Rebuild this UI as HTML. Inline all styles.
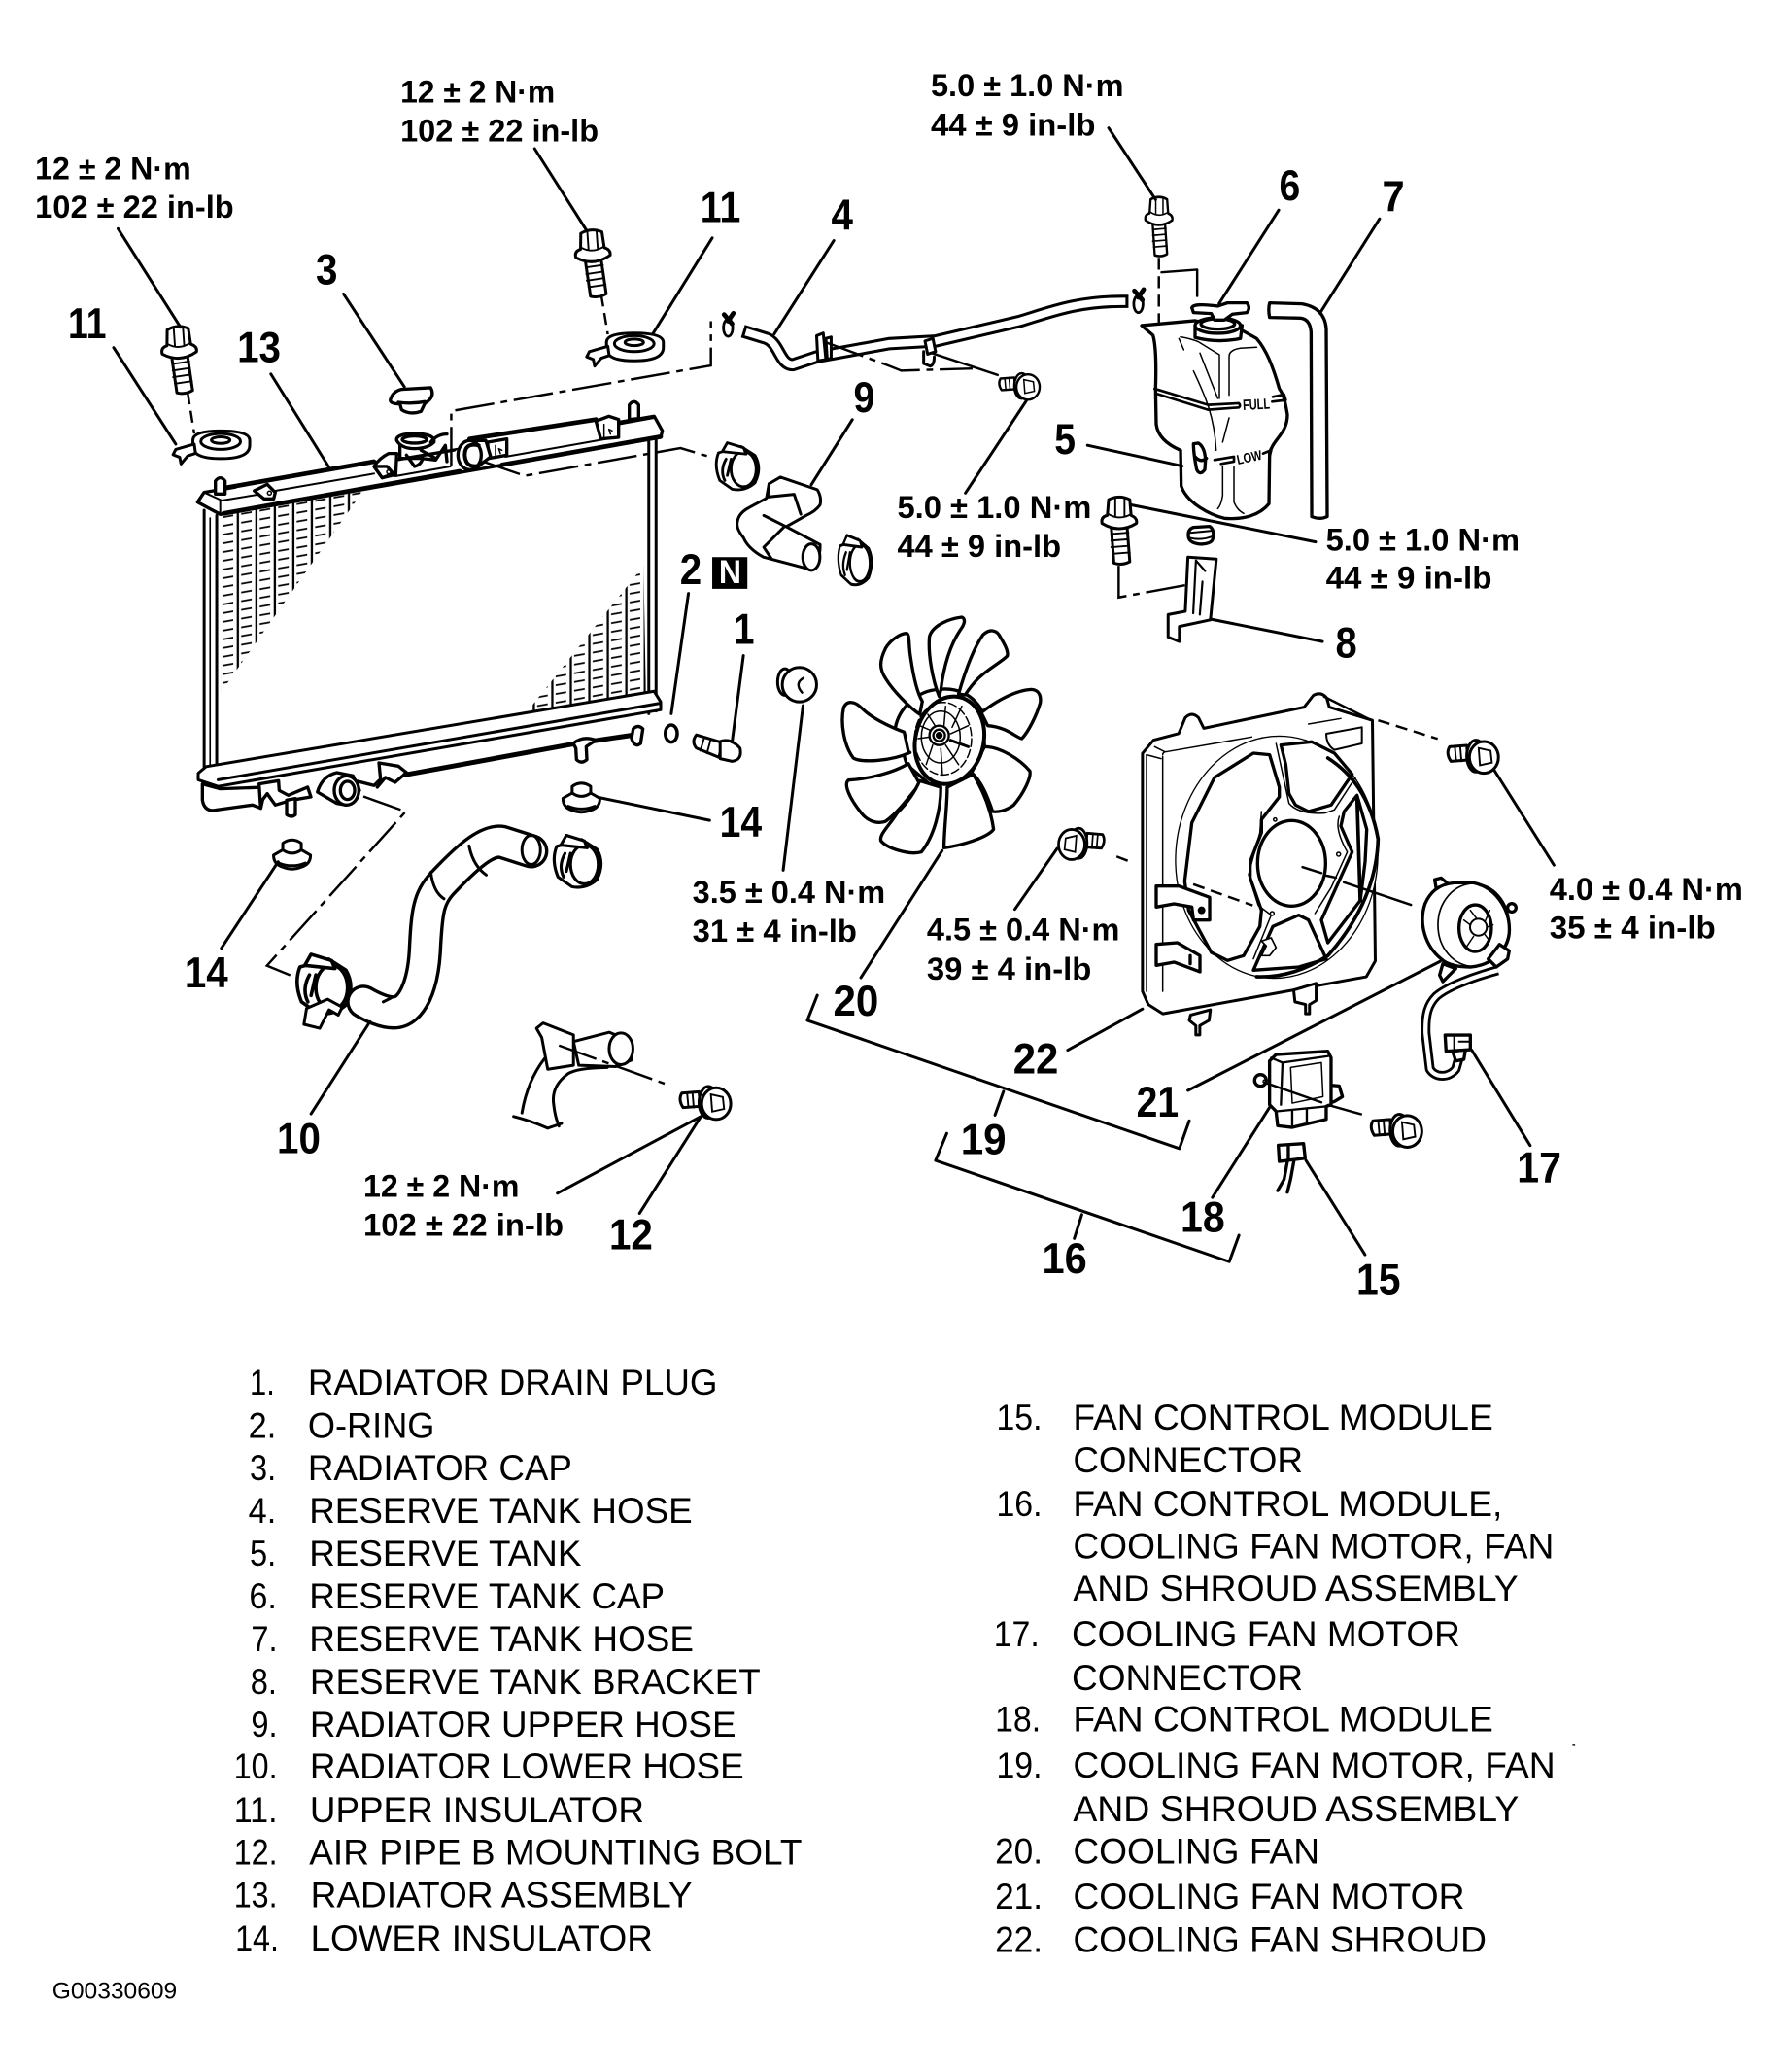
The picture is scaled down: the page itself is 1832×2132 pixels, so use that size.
<!DOCTYPE html>
<html lang="en"><head><meta charset="utf-8"><title>Radiator and cooling fan components</title>
<style>
html,body{margin:0;padding:0;background:#fff}
svg{display:block}
text{font-family:"Liberation Sans",Arial,sans-serif;fill:#000;stroke:none}
.n{font-weight:700;font-size:33px}
.t{font-weight:700;font-size:24px}
.l{font-size:27px}
.s,.s *{fill:#fff;stroke:#000;stroke-width:2.2;stroke-linejoin:round;stroke-linecap:round}
.k,.k *{fill:none;stroke:#000;stroke-width:2.2;stroke-linecap:round;stroke-linejoin:round}
.th,.th *{fill:none;stroke:#000;stroke-width:1.4;stroke-linecap:round}
.d{fill:none;stroke:#000;stroke-width:1.8;stroke-dasharray:30 5 5 5}
.e{fill:none;stroke:#000;stroke-width:1.8;stroke-dasharray:9 5}
.hb{fill:none;stroke:#000;stroke-linecap:square;stroke-linejoin:round}
.z path,.z ellipse,.z circle,.z polygon{fill:#fff;stroke:#000;stroke-width:10;stroke-linejoin:round;stroke-linecap:round}
.z .o{fill:none}
.z .h{fill:none;stroke-width:14}
.z .f{fill:none;stroke-width:4.5}
.z .b{fill:#000}
</style></head><body>
<svg xmlns="http://www.w3.org/2000/svg" width="1832" height="2132" viewBox="0 0 1347.06 1567.65">
<defs>
<pattern id="fin" patternUnits="userSpaceOnUse" width="14" height="6.6" patternTransform="translate(11 0) skewY(-10)">
<path d="M1 0V6.6" fill="none" stroke="#000" stroke-width="1.7"/>
<path d="M3.5 3.3H11.5" fill="none" stroke="#000" stroke-width="1.3"/>
</pattern>
<g id="bolt">
<path class="s" d="M-6 14H6L8 40Q2 43-4 41Z"/>
<path class="th" d="M-6 19L7 18M-6 24L7 23M-6 29L7 28M-5 34L8 33"/>
<path class="s" d="M-13 11Q-14 6-9 5L-8-7Q0-11 8-7L9 5Q14 7 13 11Q0 19-13 11Z"/>
<path class="th" d="M-8 4Q0 9 9 4M-3-8L-3 6M4-8L4 6"/>
</g>
<g id="rb">
<path class="s" d="M-26-7L-13-8L-12 3L-25 4Q-29-2-26-7Z"/>
<path class="th" d="M-22-7L-21 4M-18-8L-17 4"/>
<ellipse class="s" cx="-6" cy="0" rx="7" ry="12"/>
<ellipse class="s" cx="0" cy="1" rx="11" ry="12"/>
<path class="th" d="M-4-6L5-4L6 5L-3 7Z"/>
</g>
<g id="ins">
<path class="s" d="M-21 3Q-21 12 0 12Q22 12 22 2L22-2Q22-9 0-9Q-21-9-21-2Z"/>
<ellipse class="k" cx="0" cy="-1" rx="15" ry="6"/>
<ellipse class="k" cx="0" cy="-2" rx="7" ry="2.5"/>
<path class="s" d="M-20 1L-34 5L-36 9L-31 11L-30 16L-25 10L-19 8Z"/>
</g>
<g id="li">
<path class="s" d="M-14 2L-7-2V-7Q0-12 7-7V-2L14 2Q14 9 7 11Q0 14-7 11Q-14 9-14 2Z"/>
<path class="k" d="M-7-2Q0 3 7-2M-10 8Q0 12 10 8"/>
</g>
<g id="clamp">
<path class="s" d="M-15-12L3-17L14-10Q20 0 14 12Q6 19-4 17L-14 10Q-19-2-15-12Z"/>
<ellipse class="s" cx="5" cy="1" rx="10" ry="14"/>
<path class="s" d="M-12-13L-8-20L5-16L7-11Q-3-12-12-13Z"/>
<path class="k" d="M-9-7Q-14 2-10 10M-5-7L-8 6"/>
</g>
<g id="clip">
<ellipse cx="0" cy="4" rx="3.5" ry="6.5" fill="#fff" stroke="#000" stroke-width="2"/>
<path d="M-3-6L3 1M4-7L0-1" stroke="#000" stroke-width="3.5" fill="none" stroke-linecap="round"/>
</g>
</defs>

<!-- RADIATOR -->
<path d="M168 386L273 366V374L167 524Z" fill="url(#fin)"/>
<path d="M487 428L489 535L385 556Z" fill="url(#fin)"/>
<path class="k" d="M154.5 386V590M164 390V594M491 333V540M496.5 330V538"/>
<path class="k" d="M159 392V590" style="stroke-width:1.2"/>
<g class="z" transform="translate(147.06 294.1) scale(.2451)">
<path d="M10 350L30 320L1420 85L1445 130L1440 150L80 388Z"/>
<path d="M100 305L555 225L640 240L740 250L850 155L1240 95L1310 90L1310 150L960 215L620 270L250 320Z" style="stroke:none"/>
<path class="h" d="M100 305L555 225M850 155L1240 95M90 385L820 255M950 235L1440 148"/>
<path class="o" d="M85 345L250 318M250 315L555 262M620 270L790 240M960 210L1300 150M1310 110L1420 90M80 345V385M30 320L85 345M10 350L80 385M1420 85L1445 130" style="stroke-width:6"/>
<path d="M185 315L225 295L250 320L245 340L215 340Z"/><circle cx="232" cy="322" r="6" class="f"/>
<path d="M555 240Q570 215 600 200L625 200L622 265L580 275Z"/>
<path d="M555 240L595 240L615 262L580 275Z"/><circle cx="600" cy="257" r="6" class="f"/>
<path d="M65 325V285Q80 265 95 285V325Z"/>
<path d="M1343 95V50Q1358 30 1372 50V92Z"/>
<path d="M1240 100L1280 85L1310 95V150L1255 155Z"/><path class="f" d="M1265 110V150M1290 130L1280 125L1285 140"/>
<path d="M655 205L680 240Q700 235 705 215" class="o"/>
<path d="M635 170V215H700L745 220L775 175L780 225" class="o"/>
<path d="M625 160Q620 140 680 138Q745 140 740 165Q720 185 680 185Q640 185 625 160Z"/>
<ellipse cx="680" cy="157" rx="38" ry="11" class="o"/>
<path class="o" d="M700 190L745 215M730 165Q750 140 780 140"/>
<path d="M905 165L965 155V205L910 215Z"/><path class="f" d="M930 175V205M950 190L940 185L945 200"/>
<path d="M855 160L900 160L915 210L870 245L835 240Z"/>
<ellipse cx="850" cy="205" rx="36" ry="45"/>
<path class="o" d="M878 175Q835 165 835 205Q838 245 875 238" style="stroke-width:12"/>
<!-- radiator cap -->
<path d="M605 35Q612 8 640 2L730 -3Q745 25 712 45L700 70Q665 82 640 65L635 47Q605 47 605 35Z"/>
<path class="o" d="M630 42Q670 48 712 40"/>
</g>
<path class="s" d="M150 585L156 580L495 523L500 531L500 537L165 595L150 590Z"/>
<path class="k" d="M165 590L500 532"/>
<g class="z" transform="translate(147.06 558.8) scale(.2451)">
<path d="M25 140V190Q30 220 55 222L180 205L205 215L220 150L80 155Z"/>
<path d="M200 140L260 130L262 160L290 175L350 150L360 180L300 190L250 205L225 170L210 190L205 215Z"/>
<path d="M285 190V235Q300 245 312 235V185Z"/>
<path d="M380 165Q395 115 440 105L490 115L510 160L470 205L440 200Z"/>
<ellipse cx="470" cy="160" rx="38" ry="45"/>
<ellipse cx="473" cy="160" rx="22" ry="28"/>
<path d="M505 132L555 145L575 125L570 75L630 85L655 105L620 135L590 120L565 150" />
<path class="h" d="M650 112L1180 15L1362 -12" style="stroke-width:15"/>
<path d="M1170 15Q1200 -10 1240 5L1210 25L1212 65Q1195 80 1180 65L1178 30Z"/>
<path d="M1350 0L1355 -30Q1370 -45 1385 -30L1378 15Q1360 30 1350 0Z"/>
</g>

<!-- BOLTS AND INSULATORS -->
<use href="#bolt" transform="translate(135 256) rotate(-4)"/>
<use href="#bolt" transform="translate(448 183) rotate(-4)"/>
<use href="#bolt" transform="translate(877 157) scale(.78,.88)"/>
<use href="#bolt" transform="translate(847 385)"/>
<use href="#ins" transform="translate(167 335)"/>
<use href="#ins" transform="translate(480 261)"/>
<use href="#li" transform="translate(440 602)"/>
<use href="#li" transform="translate(221 645)"/>
<use href="#rb" transform="translate(542 834)"/>
<use href="#rb" transform="translate(1123 572)"/>
<use href="#rb" transform="translate(1065 855)"/>
<use href="#rb" transform="translate(811 638) scale(-.9,.95)"/>
<use href="#rb" transform="translate(778 292) scale(.8)"/>

<!-- CLAMPS -->
<use href="#clamp" transform="translate(558 354) scale(.95,.95)"/>
<use href="#clamp" transform="translate(647 425) scale(.75,1)"/>
<use href="#clamp" transform="translate(437 653) scale(1.05,1.05)"/>
<use href="#clamp" transform="translate(245 746) scale(1.2,1.2)"/>
<path class="s" d="M232 763L230 775L242 778L249 764L256 768L259 762L248 756Z"/>

<!-- HOSE 9 -->
<path class="s" d="M582 366L590.6 361L618.5 370.5Q622 376 620.6 382Q617 387 610 390L595 398.5L620.6 412Q621 424 614 431L577.7 421.5Q566 415 562.6 406.7Q557 400 558 395Q559 388 567 384L580 377Z"/>
<path class="k" d="M582 366L581 376L601 374L606 389M578 390L594 398L578 414L584 423"/>
<ellipse class="s" cx="614" cy="421.5" rx="6.5" ry="10"/>
<!-- HOSE 10 -->
<path class="hb" style="stroke-linecap:round" stroke-width="26" d="M402 644L380 637C368 635 352 650 335 668C324 680 323 690 321.5 720C320 745 312 766 298 766C290 766 282 762 275 758"/>
<path class="hb" style="stroke:#fff;stroke-linecap:round" stroke-width="21" d="M402 644L380 637C368 635 352 650 335 668C324 680 323 690 321.5 720C320 745 312 766 298 766C290 766 282 762 275 758"/>
<ellipse class="s" cx="402" cy="643" rx="7" ry="11"/>
<path class="k" d="M326 660Q328 675 336 680M355 640Q358 655 368 662M296 755L290 758"/>
<!-- HOSE 4 -->
<path class="hb" stroke-width="10" d="M567 252L580 256C590 260 590 276 600 276L618 270L673 260L708 258L772 243C795 236 815 228 849 228"/>
<path class="hb" style="stroke:#fff" stroke-width="5.5" d="M567 252L580 256C590 260 590 276 600 276L618 270L673 260L708 258L772 243C795 236 815 228 849 228"/>
<path class="s" d="M618 254L623 252L625 272L619 273ZM625 256L629 255V271L626 272Z"/>
<path class="s" d="M700 258L706 256L708 266L702 268ZM699 266V275L704 277Q707 276 707 270"/>
<use href="#clip" transform="translate(551 244)"/>
<use href="#clip" transform="translate(861.5 226)"/>

<!-- TANK, HOSE 7, NUT -->
<g class="z" transform="translate(845.6 198.5) scale(.2451)">
<path d="M75 195L240 180L385 210L430 235C460 270 480 320 500 390C515 410 520 440 525 470C525 530 480 545 470 590L468 745C440 780 390 795 330 790C290 780 215 745 197 690L195 580C160 565 125 540 120 500L118 390C120 330 120 260 110 225Z"/>
<path d="M240 205V232Q310 250 380 235L385 195H240Z"/>
<ellipse cx="310" cy="195" rx="70" ry="24"/>
<ellipse cx="310" cy="190" rx="52" ry="16" class="o"/>
<path d="M230 140Q235 125 310 135L340 125L400 125Q412 140 400 155L355 160L330 178L300 178L290 158L235 155Z"/>
<path class="o" d="M115 390L280 440L375 435Q382 442 375 448L280 455L120 405M480 415L515 408L520 425L478 430M300 610L360 600L360 615L320 622M450 590L475 580L470 600" style="stroke-width:8"/>
<path class="f" d="M255 280L310 420M235 335C265 400 300 470 305 580M190 235L205 270M195 230Q225 235 250 245L315 285V420M345 410V290Q345 270 380 265L430 262M345 480L325 555M325 630V720Q320 750 310 760M360 630V740Q370 765 390 775"/>
<path d="M235 560Q235 590 245 640Q255 660 270 640L272 610Q270 570 250 558Z"/>
<path class="o" d="M240 600Q258 620 275 605"/>
<text x="388" y="456" font-size="46" font-weight="700" textLength="84" lengthAdjust="spacingAndGlyphs" transform="rotate(-3 388 456)">FULL</text>
<text x="372" y="624" font-size="42" font-weight="700" textLength="78" lengthAdjust="spacingAndGlyphs" transform="rotate(-12 372 624)">LOW</text>
<path d="M470 125L570 128Q640 140 645 205L648 785Q625 795 600 785L598 215Q595 175 565 172L470 170Q465 145 470 125Z"/>
<path d="M220 850Q215 825 235 818L285 815Q300 825 295 850Q295 868 260 870Q225 868 220 850Z"/>
<path class="o" d="M225 835L295 828M222 850Q260 860 295 845" style="stroke-width:6"/>
</g>
<!-- bracket -->
<path class="s" d="M899 421.5L920.5 423L916 469L892.5 474V485.4L884 482V465L897 462.5Z"/>
<path class="k" d="M905 425L903 464M910 440L908 465M905 424L912 432" style="stroke-width:1.6"/>

<!-- O-RING, DRAIN PLUG, BOLT C -->
<ellipse class="s" cx="508" cy="555" rx="4.5" ry="6.5" style="stroke-width:2.6"/>
<path class="s" d="M527 556L547 562L544 573L527 566Q523 561 527 556Z"/>
<path class="th" d="M533 558L530 568M538 559L535 570"/>
<path class="s" d="M545 561Q553 558 560 566Q562 575 554 576L545 574Z"/>
<ellipse class="s" cx="594" cy="516" rx="5.5" ry="10"/>
<ellipse class="s" cx="605" cy="518" rx="13" ry="13"/>
<path class="k" d="M608 513Q601 517 607 524" style="stroke-width:1.8"/>

<!-- AIR PIPE -->
<path class="k" d="M412 801Q399 818 395 842M459.6 807.6Q436 808 429.5 812.6Q417 822 419 835.5Q420 845 423 852M388.7 844.7Q402 848 414.5 853.6L425 850"/>
<path class="s" d="M434 788L461 781L478 788V802L466 807L438 806Z"/>
<ellipse class="s" cx="470" cy="793.5" rx="9" ry="12"/>
<path class="s" d="M406 778L411 774L434 783V806L414.5 809L410 785Z"/>

<!-- FAN -->
<g class="z" transform="translate(617.6 455.9) scale(.2451)">
<path d="M245 385C255 330 310 270 380 268C430 262 480 280 510 330L520 440L480 540L350 560L280 500Z"/>
<path d="M285 497C240 525 160 545 100 548C85 560 100 600 140 650C160 675 190 685 215 675C250 650 280 610 320 560Z"/>
<path d="M290 463C230 490 140 495 115 480C85 440 75 370 85 325C95 300 120 305 140 325C170 355 220 380 272 400L285 460Z"/>
<path d="M320 345C290 325 240 275 215 235C195 205 195 180 215 140C230 115 260 95 280 95C290 100 285 130 292 170C300 225 310 275 328 305Z"/>
<path d="M380 290C360 240 345 160 350 105C360 70 410 50 450 45C462 50 460 65 445 85C415 130 395 190 385 270Z"/>
<path d="M440 282C455 230 480 150 515 100C535 80 555 85 565 100C580 125 595 150 590 165C570 185 530 205 500 235C485 250 470 270 460 285Z"/>
<path d="M510 340C560 300 620 270 665 268C690 270 695 290 692 310C680 350 655 400 635 420C615 415 590 385 530 380Z"/>
<path d="M520 445C570 445 630 485 660 520C665 540 640 590 610 625C590 640 565 648 545 645C530 600 510 550 480 525Z"/>
<path d="M320 550C305 585 280 620 250 650C225 690 195 715 200 735C220 760 290 780 325 770C365 720 385 640 385 570Z"/>
<path d="M485 530C515 580 540 640 548 700C530 725 450 750 395 757C395 700 405 630 405 570Z"/>
<ellipse cx="412" cy="425" rx="105" ry="137" transform="rotate(14 412 425)" style="stroke-width:12"/>
<path class="f" d="M345 345L380 400M400 320L395 380M450 320L420 385M470 380L415 405M460 440L415 425M440 500L400 440M390 530L385 450M340 500L360 440M315 420L350 415M320 380L355 395"/>
<ellipse cx="385" cy="415" rx="60" ry="80" class="f"/>
<ellipse cx="392" cy="420" rx="88" ry="112" class="f" stroke-dasharray="25 10"/>
<path class="o" d="M415 425L470 445" style="stroke-width:9"/>
<circle cx="380" cy="410" r="30" style="stroke-width:7"/>
<circle cx="380" cy="410" r="18" style="stroke-width:7"/>
<circle cx="380" cy="410" r="6" class="b"/>
</g>

<!-- SHROUD -->
<path class="s" d="M864.6 570L873 560L892 555L897 543Q902 538 907 543L911 551L987 535L994 526Q1000 523 1004 528L1006 535L1038.6 545L1040.8 727L1034 739L880 767L869 760L864.6 750Z"/>
<g class="z" transform="translate(860.3 529.4) scale(.2451)">
<path class="f" d="M80 170Q80 160 95 160L355 115M30 170L75 182M80 175V900M30 170V900M55 145L85 160M530 75L630 58"/>
<path d="M585 105L695 85V135L610 155Q585 140 585 105Z" style="stroke-width:6"/>
<ellipse cx="432" cy="486" rx="312" ry="374" transform="rotate(4 432 486)" style="stroke-width:4"/>
<path d="M360 165L410 170L440 270V300L385 370V410L350 500V550L385 650L380 700L330 790L280 805L230 780L160 650L148 560L170 380L240 240Z"/>
<path d="M445 140L540 130L610 165L665 230L600 325L530 345L490 325L470 290L460 200Z"/>
<path d="M360 835L420 700L500 665L530 680L585 800L500 825Z"/>
<path d="M640 345L630 390L665 470L570 680L590 750L690 620L705 500L710 400L680 295Z"/>
<path class="o" d="M690 620L680 300M590 180Q715 260 745 430Q740 620 590 790Q480 860 370 855" style="stroke-width:11"/>
<path class="f" d="M430 135L470 320Q500 355 580 350L610 340L675 240M385 345L380 410L345 540L375 635L415 665L360 800M625 360Q610 400 650 470L600 580L550 660"/>
<ellipse cx="478" cy="505" rx="105" ry="132"/>
<circle cx="427" cy="370" r="5" class="f"/><circle cx="623" cy="477" r="6" class="f"/><circle cx="418" cy="660" r="6" class="f"/>
<path d="M385 745L415 735L430 765L410 790L385 790L400 760Z" style="stroke-width:5"/>
<path d="M60 575L130 575L225 610V680L175 680L170 640L115 630L60 640Z"/><circle cx="200" cy="650" r="7" class="b"/>
<path d="M60 755L125 750L195 790V840L115 810L60 820Z"/><path class="h" d="M165 790V815" style="stroke-width:10"/>
</g>
<path class="s" d="M901 768L916 764L915 772L908 776V783H905V776L900 772Z"/>
<path class="s" d="M979 749L996 744L996 757L991 760V767H988V760L980 758Z"/>

<!-- MOTOR, MODULE, CONNECTORS -->
<g class="z" transform="translate(919.1 647.1) scale(.2451)">
<path class="hb" style="stroke:#000;stroke-width:30;fill:none;stroke-linecap:butt" d="M875 355C800 375 720 405 685 435C660 460 650 490 652 550L665 660C680 685 720 690 745 660L755 625"/>
<path class="hb" style="stroke:#fff;stroke-width:13;fill:none;stroke-linecap:butt" d="M875 355C800 375 720 405 685 435C660 460 650 490 652 550L665 660C680 685 720 690 745 660L755 625"/>
<path d="M680 75L700 70L730 95L690 135Z"/>
<path d="M695 370L705 335L745 350L705 390Z"/>
<circle cx="918" cy="162" r="13"/>
<path d="M700 320C650 280 630 210 650 150C665 115 690 90 740 85L800 85C870 100 915 170 910 240C905 300 850 340 790 345C760 345 720 340 700 320Z"/>
<ellipse cx="800" cy="215" rx="110" ry="128" class="o" style="stroke-width:5"/>
<ellipse cx="805" cy="225" rx="50" ry="72"/>
<circle cx="815" cy="222" r="26" style="stroke-width:6"/>
<path class="f" d="M790 170L810 196M850 170L835 205M860 215L840 222M835 245L850 265M800 250L780 280M770 200L790 215"/>
<path d="M845 320L880 275L910 295L905 320L870 345Z"/>
<path d="M735 605L745 635L770 630L775 600Z"/>
<path d="M712 555L790 555V600L715 605Z"/>
<path class="o" d="M740 560V600M755 575H785" style="stroke-width:6"/>
<circle cx="142" cy="695" r="18"/><circle cx="155" cy="698" r="5" class="o" style="stroke-width:4"/>
<path d="M360 710L385 712L395 745L370 760L345 770Z"/>
<path d="M170 635L190 615L350 605L360 625V770L345 775V815L240 840L195 835L190 790L170 770Z"/>
<path class="o" d="M175 625L210 640L205 770M210 640L350 620M195 790L345 775M240 790V838M285 785V828" style="stroke-width:7"/>
<path class="f" d="M235 655L330 640L335 745L240 765Z"/>
<path d="M197 895L275 890L280 935L200 945Z"/>
<path class="o" d="M228 895V940M225 945L215 1000L195 1035M245 945L235 1000L225 1040"/>
</g>

<!-- DASHED CONNECTORS -->
<path class="e" d="M142 297L147 328M455 223L460 253M877 195V244M845 648L858 653M903 669L948 685M1043 545L1088 559"/>
<path class="d" d="M341.5 353V311L538 276.5V243"/>
<path class="d" d="M365 349L397 360L515 339L535 345"/>
<path class="d" d="M275 602.6L307 614L202 730.6L220 738"/>
<path class="k" d="M1002 527L1038 545" style="stroke-width:1.8"/>
<path class="d" d="M423 791L506 821"/>
<path class="d" d="M625 259L673.5 277L682 280.4L736 278.8"/>
<path class="k" d="M705.7 267.3L755 283.7M879 206L906 204V224" style="stroke-width:1.8"/>
<path class="k" d="M985.7 656L1000 660.5M1004 662.5L1011 664M1017 667.5L1067.8 684.6" style="stroke-width:1.8"/>
<path class="d" d="M846.6 428V452L901 442"/>
<path class="k" d="M957 819L1000 834M1005 836L1030 843" style="stroke-width:1.8"/>

<!-- LEADERS -->
<path class="k" d="M404.6 112.5L443.7 174M89.3 173L136.6 247.6M86 263L133 336M205 283L249 353.6M260 222.4L306 292.6M539 180L494 252.6M631 182L586 252.6M645 317.5L614 366.7M521 449L508 540M562.6 496L554 561.6M839 96.8L874.5 151M967.7 159L922.6 229.6M1044 165.6L999 236.8M823 336.9L894.7 352.6M776.6 303.4L730.6 373M856 382L995.6 410M916 468.4L1000.8 485.4M453 603.3L537 620.7M210.5 652L167.5 717.4M280 773L235.4 842.7M607.7 533.8L592.7 658.4M530.4 844.7L421.8 902.8M530.4 844.7L484 918M713 643.6L651.5 739.7M1131 583L1176 654.5M800 642L768 688M864.6 763.4L808 794.5M1090 727.3L899 825M1113.8 794.5L1158 866.7M961.3 837L917.5 906M988.3 878L1033 949.3"/>
<path class="k" d="M618.5 753L611 772L892.5 869L900 848M759.4 825.7L753 843.7M716.5 857.5L708 878L930.3 954.6L937.6 934.6M818.7 919L813 937"/>

<!-- CALLOUT NUMBERS -->
<text class="n" x="51.5" y="256" textLength="29" lengthAdjust="spacingAndGlyphs">11</text>
<text class="n" x="179.5" y="274" textLength="33" lengthAdjust="spacingAndGlyphs">13</text>
<text class="n" x="239" y="215" textLength="16.5" lengthAdjust="spacingAndGlyphs">3</text>
<text class="n" x="530" y="168" textLength="30.5" lengthAdjust="spacingAndGlyphs">11</text>
<text class="n" x="629" y="174" textLength="16.5" lengthAdjust="spacingAndGlyphs">4</text>
<text class="n" x="646" y="311.6" textLength="16" lengthAdjust="spacingAndGlyphs">9</text>
<text class="n" x="514.5" y="442" textLength="16.5" lengthAdjust="spacingAndGlyphs">2</text>
<text class="n" x="555" y="487" textLength="16" lengthAdjust="spacingAndGlyphs">1</text>
<text class="n" x="968" y="151.5" textLength="16" lengthAdjust="spacingAndGlyphs">6</text>
<text class="n" x="1046" y="159.7" textLength="17" lengthAdjust="spacingAndGlyphs">7</text>
<text class="n" x="798" y="343.4" textLength="16" lengthAdjust="spacingAndGlyphs">5</text>
<text class="n" x="1010.7" y="497.6" textLength="16.3" lengthAdjust="spacingAndGlyphs">8</text>
<text class="n" x="544.6" y="633" textLength="32" lengthAdjust="spacingAndGlyphs">14</text>
<text class="n" x="139.6" y="747" textLength="33" lengthAdjust="spacingAndGlyphs">14</text>
<text class="n" x="209.6" y="872.6" textLength="33" lengthAdjust="spacingAndGlyphs">10</text>
<text class="n" x="461" y="945.4" textLength="33" lengthAdjust="spacingAndGlyphs">12</text>
<text class="n" x="630.5" y="768.3" textLength="34.5" lengthAdjust="spacingAndGlyphs">20</text>
<text class="n" x="766.7" y="812" textLength="34.3" lengthAdjust="spacingAndGlyphs">22</text>
<text class="n" x="860" y="845" textLength="32" lengthAdjust="spacingAndGlyphs">21</text>
<text class="n" x="727" y="873" textLength="34.5" lengthAdjust="spacingAndGlyphs">19</text>
<text class="n" x="893.4" y="932" textLength="33.6" lengthAdjust="spacingAndGlyphs">18</text>
<text class="n" x="1148" y="894.6" textLength="33.6" lengthAdjust="spacingAndGlyphs">17</text>
<text class="n" x="788.6" y="963.4" textLength="34" lengthAdjust="spacingAndGlyphs">16</text>
<text class="n" x="1026.5" y="979" textLength="33.5" lengthAdjust="spacingAndGlyphs">15</text>
<rect x="539" y="421.5" width="26.6" height="24" fill="#000"/>
<text x="544" y="441" font-size="25" font-weight="700" style="fill:#fff" textLength="17" lengthAdjust="spacingAndGlyphs">N</text>

<!-- TORQUE -->
<text class="t" x="303" y="77.7" textLength="117" lengthAdjust="spacingAndGlyphs">12 ± 2 N·m</text>
<text class="t" x="303" y="107" textLength="150" lengthAdjust="spacingAndGlyphs">102 ± 22 in-lb</text>
<text class="t" x="26.6" y="135.8" textLength="118" lengthAdjust="spacingAndGlyphs">12 ± 2 N·m</text>
<text class="t" x="26.6" y="164.7" textLength="150.4" lengthAdjust="spacingAndGlyphs">102 ± 22 in-lb</text>
<text class="t" x="704.4" y="72.8" textLength="146" lengthAdjust="spacingAndGlyphs">5.0 ± 1.0 N·m</text>
<text class="t" x="704.4" y="102.7" textLength="124.6" lengthAdjust="spacingAndGlyphs">44 ± 9 in-lb</text>
<text class="t" x="679" y="392" textLength="147" lengthAdjust="spacingAndGlyphs">5.0 ± 1.0 N·m</text>
<text class="t" x="679" y="421.5" textLength="124" lengthAdjust="spacingAndGlyphs">44 ± 9 in-lb</text>
<text class="t" x="1003.4" y="416.6" textLength="146.6" lengthAdjust="spacingAndGlyphs">5.0 ± 1.0 N·m</text>
<text class="t" x="1003.4" y="445.4" textLength="125.6" lengthAdjust="spacingAndGlyphs">44 ± 9 in-lb</text>
<text class="t" x="524" y="683" textLength="146" lengthAdjust="spacingAndGlyphs">3.5 ± 0.4 N·m</text>
<text class="t" x="524" y="712.5" textLength="124.5" lengthAdjust="spacingAndGlyphs">31 ± 4 in-lb</text>
<text class="t" x="275" y="905.4" textLength="118" lengthAdjust="spacingAndGlyphs">12 ± 2 N·m</text>
<text class="t" x="275" y="935" textLength="151.5" lengthAdjust="spacingAndGlyphs">102 ± 22 in-lb</text>
<text class="t" x="701.4" y="711.5" textLength="146" lengthAdjust="spacingAndGlyphs">4.5 ± 0.4 N·m</text>
<text class="t" x="701.4" y="741" textLength="124.6" lengthAdjust="spacingAndGlyphs">39 ± 4 in-lb</text>
<text class="t" x="1172.6" y="680.7" textLength="146.4" lengthAdjust="spacingAndGlyphs">4.0 ± 0.4 N·m</text>
<text class="t" x="1172.6" y="710" textLength="125.8" lengthAdjust="spacingAndGlyphs">35 ± 4 in-lb</text>

<!-- LEGEND LEFT -->
<text class="l" x="189" y="1055.3" textLength="19" lengthAdjust="spacingAndGlyphs">1.</text><text class="l" x="233" y="1055.3" textLength="310" lengthAdjust="spacingAndGlyphs">RADIATOR DRAIN PLUG</text>
<text class="l" x="188" y="1087.7" textLength="21" lengthAdjust="spacingAndGlyphs">2.</text><text class="l" x="233" y="1087.7" textLength="96" lengthAdjust="spacingAndGlyphs">O-RING</text>
<text class="l" x="189" y="1119.8" textLength="20" lengthAdjust="spacingAndGlyphs">3.</text><text class="l" x="233" y="1119.8" textLength="200" lengthAdjust="spacingAndGlyphs">RADIATOR CAP</text>
<text class="l" x="188" y="1152.3" textLength="21" lengthAdjust="spacingAndGlyphs">4.</text><text class="l" x="234" y="1152.3" textLength="290" lengthAdjust="spacingAndGlyphs">RESERVE TANK HOSE</text>
<text class="l" x="189" y="1184.7" textLength="20" lengthAdjust="spacingAndGlyphs">5.</text><text class="l" x="234" y="1184.7" textLength="206" lengthAdjust="spacingAndGlyphs">RESERVE TANK</text>
<text class="l" x="188.5" y="1216.8" textLength="21" lengthAdjust="spacingAndGlyphs">6.</text><text class="l" x="234" y="1216.8" textLength="269" lengthAdjust="spacingAndGlyphs">RESERVE TANK CAP</text>
<text class="l" x="190" y="1249.3" textLength="20" lengthAdjust="spacingAndGlyphs">7.</text><text class="l" x="234" y="1249.3" textLength="291" lengthAdjust="spacingAndGlyphs">RESERVE TANK HOSE</text>
<text class="l" x="189.5" y="1281.7" textLength="20" lengthAdjust="spacingAndGlyphs">8.</text><text class="l" x="234.5" y="1281.7" textLength="341" lengthAdjust="spacingAndGlyphs">RESERVE TANK BRACKET</text>
<text class="l" x="190" y="1313.8" textLength="20" lengthAdjust="spacingAndGlyphs">9.</text><text class="l" x="234.5" y="1313.8" textLength="322.5" lengthAdjust="spacingAndGlyphs">RADIATOR UPPER HOSE</text>
<text class="l" x="177" y="1345.5" textLength="33" lengthAdjust="spacingAndGlyphs">10.</text><text class="l" x="234.5" y="1345.5" textLength="328.5" lengthAdjust="spacingAndGlyphs">RADIATOR LOWER HOSE</text>
<text class="l" x="177" y="1378.7" textLength="33" lengthAdjust="spacingAndGlyphs">11.</text><text class="l" x="234.5" y="1378.7" textLength="253" lengthAdjust="spacingAndGlyphs">UPPER INSULATOR</text>
<text class="l" x="177" y="1410.8" textLength="33" lengthAdjust="spacingAndGlyphs">12.</text><text class="l" x="234" y="1410.8" textLength="373" lengthAdjust="spacingAndGlyphs">AIR PIPE B MOUNTING BOLT</text>
<text class="l" x="177" y="1443.2" textLength="33" lengthAdjust="spacingAndGlyphs">13.</text><text class="l" x="235" y="1443.2" textLength="289" lengthAdjust="spacingAndGlyphs">RADIATOR ASSEMBLY</text>
<text class="l" x="178" y="1475.7" textLength="33" lengthAdjust="spacingAndGlyphs">14.</text><text class="l" x="235" y="1475.7" textLength="259" lengthAdjust="spacingAndGlyphs">LOWER INSULATOR</text>

<!-- LEGEND RIGHT -->
<text class="l" x="754" y="1081.7" textLength="34.6" lengthAdjust="spacingAndGlyphs">15.</text><text class="l" x="812" y="1081.7" textLength="318" lengthAdjust="spacingAndGlyphs">FAN CONTROL MODULE</text>
<text class="l" x="812" y="1114" textLength="174" lengthAdjust="spacingAndGlyphs">CONNECTOR</text>
<text class="l" x="754" y="1147" textLength="34.6" lengthAdjust="spacingAndGlyphs">16.</text><text class="l" x="812" y="1147" textLength="325" lengthAdjust="spacingAndGlyphs">FAN CONTROL MODULE,</text>
<text class="l" x="812" y="1179" textLength="364" lengthAdjust="spacingAndGlyphs">COOLING FAN MOTOR, FAN</text>
<text class="l" x="812" y="1211" textLength="337" lengthAdjust="spacingAndGlyphs">AND SHROUD ASSEMBLY</text>
<text class="l" x="752" y="1245.7" textLength="34.6" lengthAdjust="spacingAndGlyphs">17.</text><text class="l" x="811" y="1245.7" textLength="294" lengthAdjust="spacingAndGlyphs">COOLING FAN MOTOR</text>
<text class="l" x="811" y="1278.5" textLength="175" lengthAdjust="spacingAndGlyphs">CONNECTOR</text>
<text class="l" x="753" y="1310" textLength="34.6" lengthAdjust="spacingAndGlyphs">18.</text><text class="l" x="812" y="1310" textLength="318" lengthAdjust="spacingAndGlyphs">FAN CONTROL MODULE</text>
<text class="l" x="754" y="1345" textLength="34.6" lengthAdjust="spacingAndGlyphs">19.</text><text class="l" x="812" y="1345" textLength="365" lengthAdjust="spacingAndGlyphs">COOLING FAN MOTOR, FAN</text>
<text class="l" x="812" y="1378" textLength="337.5" lengthAdjust="spacingAndGlyphs">AND SHROUD ASSEMBLY</text>
<text class="l" x="753" y="1410" textLength="36" lengthAdjust="spacingAndGlyphs">20.</text><text class="l" x="812" y="1410" textLength="186.6" lengthAdjust="spacingAndGlyphs">COOLING FAN</text>
<text class="l" x="753" y="1444" textLength="36" lengthAdjust="spacingAndGlyphs">21.</text><text class="l" x="812" y="1444" textLength="296.5" lengthAdjust="spacingAndGlyphs">COOLING FAN MOTOR</text>
<text class="l" x="753" y="1476.7" textLength="36" lengthAdjust="spacingAndGlyphs">22.</text><text class="l" x="812" y="1476.7" textLength="313" lengthAdjust="spacingAndGlyphs">COOLING FAN SHROUD</text>
<rect x="1190" y="1320" width="2" height="1" fill="#000"/>

<text x="39.5" y="1512" font-size="17.7" textLength="94.5" lengthAdjust="spacingAndGlyphs">G00330609</text>
</svg>
</body></html>
